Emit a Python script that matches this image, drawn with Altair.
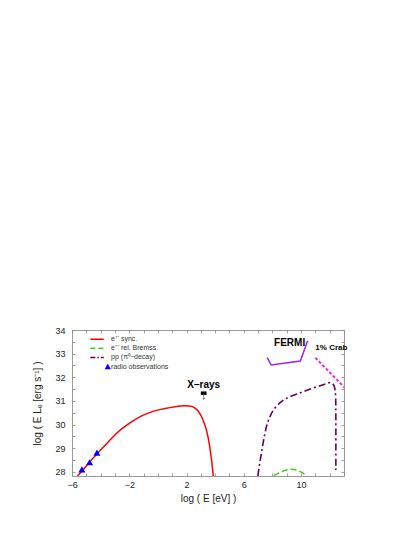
import altair as alt
import pandas as pd

# ---------------- data ----------------
sync_x = [-5.62, -5.2, -4.8, -4.2, -3.5, -2.8, -2.0, -1.2, -0.4, 0.4, 1.2, 1.8, 2.2, 2.6, 2.9, 3.15, 3.4, 3.6, 3.75, 3.87]
sync_y = [27.83, 28.1, 28.4, 28.8, 29.25, 29.68, 30.05, 30.35, 30.55, 30.67, 30.76, 30.8, 30.79, 30.7, 30.5, 30.2, 29.75, 29.15, 28.5, 27.83]

brems_x = [8.1, 8.5, 8.9, 9.3, 9.7, 10.05, 10.4]
brems_y = [27.84, 27.97, 28.07, 28.11, 28.08, 27.98, 27.84]

pp_x = [6.98, 7.15, 7.3, 7.45, 7.6, 7.8, 8.05, 8.4, 8.8, 9.3, 9.9, 10.5, 11.1, 11.6, 11.95, 12.15, 12.3, 12.38, 12.42, 12.43, 12.43]
pp_y = [27.84, 28.5, 29.05, 29.55, 29.95, 30.3, 30.6, 30.85, 31.05, 31.2, 31.34, 31.47, 31.6, 31.7, 31.77, 31.75, 31.65, 31.45, 31.1, 30.5, 28.08]

radio_x = [-5.31, -4.77, -4.26]
radio_y = [28.11, 28.41, 28.82]

fermi_x = [7.64, 7.91, 9.95, 10.46]
fermi_y = [32.83, 32.52, 32.69, 33.55]

crab_x = [11.0, 13.1]
crab_y = [32.83, 31.53]

xray_x = [3.0]
xray_x2 = [3.4]
xray_y = [31.33]
xray_arrow_y2 = [31.08]

labels_text = ["X\u2013rays", "FERMI"]
labels_x = [3.2, 9.2]
labels_y = [31.68, 33.44]

crab_label = ["1% Crab"]
crab_label_x = [11.0]
crab_label_y = [33.23]

legend_labels = ["e\u207a\u207b sync.", "e\u207a\u207b rel. Bremss.", "pp (\u03c0\u2070\u2212decay)", "radio observations"]

x_ticks = list(range(-6, 14))
y_ticks = [28 + 0.5 * i for i in range(13)]

# ---------------- scales / axes ----------------
FONT = "Liberation Sans"
xs = alt.Scale(domain=[-6, 13], nice=False, zero=False)
ys = alt.Scale(domain=[27.83, 34], nice=False, zero=False)

ax_bottom = alt.Axis(values=x_ticks, format="d", labelExpr="(datum.value + 6) % 4 == 0 ? datum.label : ''",
                     tickSize=3, offset=-3, domain=False, grid=False, labelPadding=4,
                     labelFlush=False, labelOverlap=False, title="log ( E [eV] )", titlePadding=4)
ax_left = alt.Axis(values=y_ticks, format=".0f", labelExpr="datum.value % 1 == 0 ? datum.label : ''",
                   tickSize=3, offset=-3, domain=False, grid=False, labelPadding=7,
                   labelFlush=False, labelOverlap=False,
                   title="log ( E L\u2091 [erg s\u207b\u00b9] )", titlePadding=12)
ax_top = alt.Axis(orient="top", values=x_ticks, labels=False, tickSize=3, offset=-3,
                  domain=False, grid=False, title=None)
ax_right = alt.Axis(orient="right", values=y_ticks, labels=False, tickSize=3, offset=-3,
                    domain=False, grid=False, title=None)

sync_df = pd.DataFrame({"x": sync_x, "y": sync_y})
brems_df = pd.DataFrame({"x": brems_x, "y": brems_y})
pp_df = pd.DataFrame({"x": pp_x, "y": pp_y, "i": list(range(len(pp_x)))})
radio_df = pd.DataFrame({"x": radio_x, "y": radio_y})
fermi_df = pd.DataFrame({"x": fermi_x, "y": fermi_y, "i": list(range(len(fermi_x)))})
crab_df = pd.DataFrame({"x": crab_x, "y": crab_y})
xray_df = pd.DataFrame({"x": xray_x, "x2": xray_x2, "y": xray_y, "y2": xray_arrow_y2,
                        "xc": [(a + b) / 2 for a, b in zip(xray_x, xray_x2)]})
lab_df = pd.DataFrame({"t": labels_text, "x": labels_x, "y": labels_y})
crablab_df = pd.DataFrame({"t": crab_label, "x": crab_label_x, "y": crab_label_y})

sync = alt.Chart(sync_df).mark_line(color="#ff0000", strokeWidth=1.5, interpolate="monotone", clip=True).encode(
    x=alt.X("x:Q", scale=xs, axis=ax_bottom), y=alt.Y("y:Q", scale=ys, axis=ax_left))

pp = alt.Chart(pp_df).mark_line(color="#660055", strokeWidth=1.6, strokeDash=[7, 3, 2, 3],
                                interpolate="catmull-rom", clip=True).encode(
    x=alt.X("x:Q", scale=xs, axis=ax_top), y=alt.Y("y:Q", scale=ys, axis=ax_right), order="i:Q")

def X(f="x"):
    return alt.X(f"{f}:Q", scale=xs, axis=None)

def Y(f="y"):
    return alt.Y(f"{f}:Q", scale=ys, axis=None)

brems = alt.Chart(brems_df).mark_line(color="#44cc22", strokeWidth=1.5, strokeDash=[6, 3],
                                      interpolate="monotone", clip=True).encode(x=X(), y=Y())
radio = alt.Chart(radio_df).mark_point(shape="triangle-up", filled=True, size=50, color="#0000ff", opacity=1).encode(x=X(), y=Y())
fermi = alt.Chart(fermi_df).mark_line(color="#a020f0", strokeWidth=1.5).encode(x=X(), y=Y(), order="i:Q")
crab = alt.Chart(crab_df).mark_line(color="#ff22dd", strokeWidth=2, strokeDash=[3, 2], clip=True).encode(x=X(), y=Y())
xbar = alt.Chart(xray_df).mark_rule(color="black", strokeWidth=3.5).encode(x=X(), x2="x2:Q", y=Y())
xarrow = alt.Chart(xray_df).mark_rule(color="#555", strokeWidth=0.7).encode(x=X("xc"), y=Y(), y2="y2:Q")
xhead = alt.Chart(xray_df).mark_point(shape="triangle-down", filled=True, size=6, color="#555").encode(x=X("xc"), y=Y("y2"))
labs = alt.Chart(lab_df).mark_text(font=FONT, fontWeight="bold", fontSize=10, color="black").encode(x=X(), y=Y(), text="t:N")
crablab = alt.Chart(crablab_df).mark_text(font=FONT, fontWeight="bold", fontSize=8, color="black", align="left").encode(x=X(), y=Y(), text="t:N")

# legend drawn in data coordinates (top-left inside the plot)
leg_y = [33.61 - 0.385 * i for i in range(4)]
leg_line_x0, leg_line_x1, leg_sym_x, leg_text_x = -4.72, -3.78, -3.5, -3.27
leg_txt_df = pd.DataFrame({"t": legend_labels, "x": [leg_text_x] * 4, "y": leg_y})
leg_text = alt.Chart(leg_txt_df).mark_text(font=FONT, fontSize=7, color="#333", align="left").encode(x=X(), y=Y(), text="t:N")
leg_marks = []
for i, (col, dash) in enumerate([("#ff0000", [1, 0]), ("#44cc22", [5, 3]), ("#660055", [5, 2, 1.5, 2])]):
    d = pd.DataFrame({"x": [leg_line_x0], "x2": [leg_line_x1], "y": [leg_y[i]]})
    leg_marks.append(alt.Chart(d).mark_rule(color=col, strokeWidth=1.5, strokeDash=dash).encode(x=X(), x2="x2:Q", y=Y()))
leg_tri = alt.Chart(pd.DataFrame({"x": [leg_sym_x], "y": [leg_y[3]]})).mark_point(
    shape="triangle-up", filled=True, size=40, color="#0000ff", opacity=1).encode(x=X(), y=Y())

chart = alt.layer(sync, pp, brems, fermi, crab, xbar, xarrow, xhead, radio, labs, crablab,
                  leg_text, *leg_marks, leg_tri).resolve_scale(
    x="shared", y="shared").resolve_axis(x="independent", y="independent").properties(
    width=272, height=146, autosize=alt.AutoSizeParams(type="none"),
    padding={"left": 64, "top": 322, "right": 55, "bottom": 45}, background="white"
).configure_view(stroke="#9a9a9a", strokeWidth=1).configure_axis(
    labelFont=FONT, labelFontSize=9, labelColor="#222", titleFont=FONT, titleFontSize=10,
    titleFontWeight="normal", titleColor="#222", tickColor="#888", tickWidth=0.8)

chart.save("out.html", embed_options={"renderer": "svg", "actions": False})
